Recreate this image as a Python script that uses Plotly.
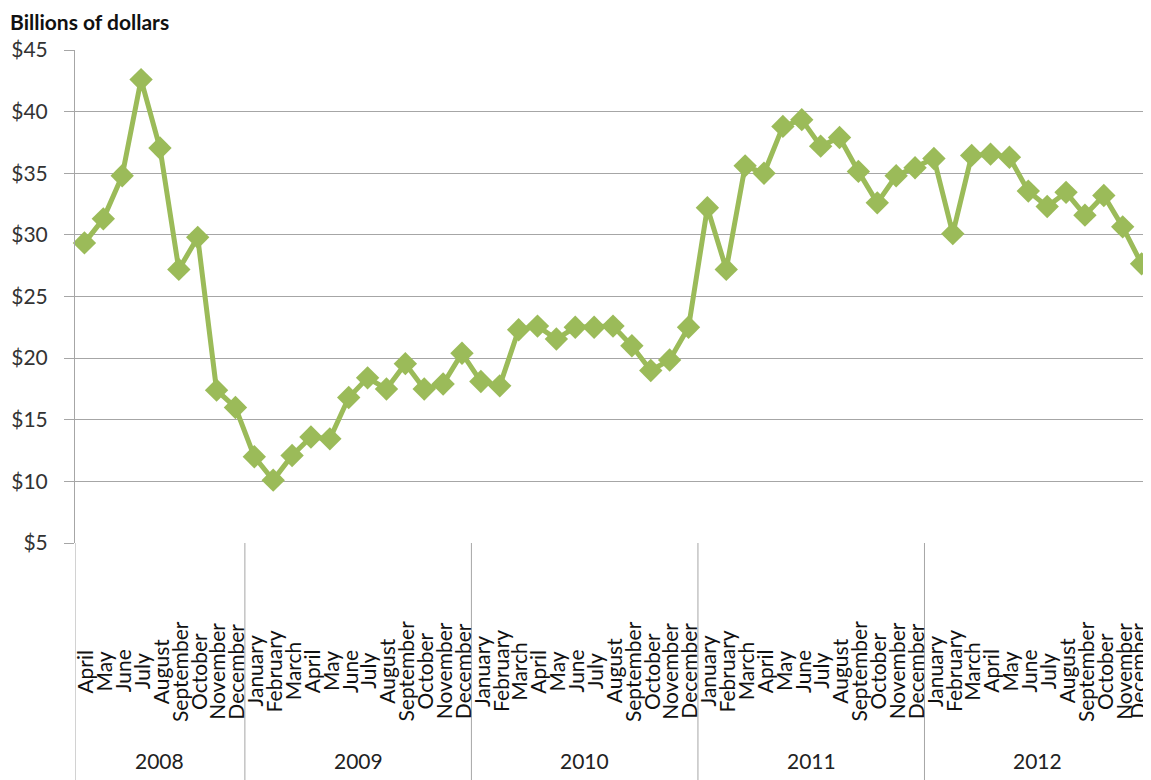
import plotly.graph_objects as go

years = ["2008", "2009", "2010", "2011", "2012"]
months_full = ["January", "February", "March", "April", "May", "June", "July",
               "August", "September", "October", "November", "December"]
month_labels = months_full[3:] + months_full * 4
year_of_point = ["2008"] * 9 + ["2009"] * 12 + ["2010"] * 12 + ["2011"] * 12 + ["2012"] * 12

values = [
    # 2008 Apr-Dec
    29.35, 31.3, 34.8, 42.6, 37.05, 27.2, 29.8, 17.4, 16.0,
    # 2009
    12.0, 10.1, 12.1, 13.6, 13.45, 16.8, 18.4, 17.5, 19.55, 17.5, 17.9, 20.4,
    # 2010
    18.1, 17.75, 22.3, 22.6, 21.55, 22.5, 22.5, 22.6, 21.0, 19.0, 19.85, 22.5,
    # 2011
    32.2, 27.2, 35.6, 35.0, 38.8, 39.35, 37.2, 37.9, 35.15, 32.6, 34.8, 35.45,
    # 2012
    36.2, 30.1, 36.45, 36.55, 36.3, 33.55, 32.3, 33.45, 31.6, 33.2, 30.65, 27.65,
]
y_ticks = [5, 10, 15, 20, 25, 30, 35, 40, 45]
y_ticktext = ["$" + str(v) for v in y_ticks]

idx = list(range(len(values)))
GREEN = "#9BBB59"
GRID = "#A6A6A6"
FONT = "Lato"

fig = go.Figure()
fig.add_trace(go.Scatter(
    x=idx, y=values, mode="lines+markers",
    line=dict(color=GREEN, width=5),
    marker=dict(symbol="diamond", size=18, color=GREEN),
    showlegend=False, hoverinfo="skip", cliponaxis=False,
))

shapes = []
annotations = []

# month labels, rotated and centred in their band
last = idx[-1]
for i, m in zip(idx, month_labels):
    if i == last:
        xpos, xanc = i + 0.5, "right"
    else:
        xpos, xanc = i, "center"
    annotations.append(dict(text=m, xref="x", yref="paper", x=xpos, y=-0.26,
                            textangle=-90, showarrow=False,
                            xanchor=xanc, yanchor="middle", borderpad=0,
                            font=dict(family=FONT, size=21, color="#111111")))

# year dividers and labels
start = 0
for yr in years:
    n = year_of_point.count(yr)
    end = start + n
    shapes.append(dict(type="line", xref="x", yref="paper",
                       x0=start - 0.5, x1=start - 0.5, y0=0, y1=-0.5,
                       line=dict(color=GRID, width=1)))
    annotations.append(dict(text=yr, xref="x", yref="paper",
                            x=(start + end - 1) / 2, y=-0.442,
                            showarrow=False, yanchor="middle",
                            font=dict(family=FONT, size=21, color="#222222")))
    start = end

annotations.append(dict(text="<b>Billions of dollars</b>", xref="paper", yref="paper",
                        x=-0.0615, y=1.0575, xanchor="left", yanchor="middle",
                        showarrow=False, borderpad=0,
                        font=dict(family=FONT, size=21, color="#111111")))

fig.update_layout(
    width=1143, height=772,
    margin=dict(l=67, r=0, t=42, b=237, autoexpand=False),
    paper_bgcolor="white", plot_bgcolor="white",
    shapes=shapes, annotations=annotations,
    xaxis=dict(
        range=[-0.5, len(values) - 0.5], automargin=False,
        showticklabels=False, showgrid=False, zeroline=False, showline=False,
        ticks="",
    ),
    yaxis=dict(
        range=[5, 45], tickmode="array", tickvals=y_ticks, ticktext=y_ticktext,
        automargin=False,
        showgrid=True, gridcolor=GRID, gridwidth=1, zeroline=False,
        showline=True, linecolor=GRID, linewidth=1,
        ticks="outside", ticklen=10, tickcolor=GRID, ticklabelstandoff=12,
        tickfont=dict(family=FONT, size=21, color="#333333"),
    ),
)

fig.write_html("out.html")
